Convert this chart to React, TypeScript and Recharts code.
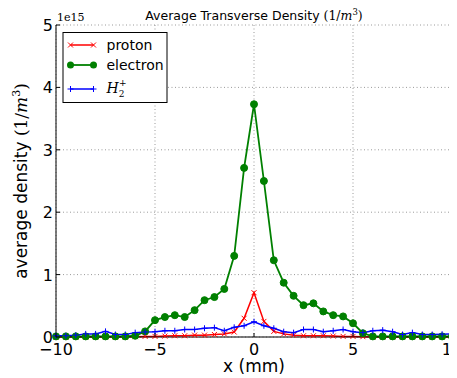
import React from 'react';
import { LineChart, Line, XAxis, YAxis, CartesianGrid } from 'recharts';

// x positions (mm)
const xMm = [-10, -9.5, -9, -8.5, -8, -7.5, -7, -6.5, -6, -5.5, -5, -4.5, -4, -3.5, -3, -2.5, -2, -1.5, -1, -0.5, 0, 0.5, 1, 1.5, 2, 2.5, 3, 3.5, 4, 4.5, 5, 5.5, 6, 6.5, 7, 7.5, 8, 8.5, 9, 9.5, 10];
// densities in units of 1e15 m^-3
const proton = [0, 0, 0, 0, 0, 0, 0, 0, 0.005, 0.01, 0.01, 0.015, 0.02, 0.02, 0.03, 0.03, 0.04, 0.05, 0.08, 0.3, 0.71, 0.25, 0.09, 0.05, 0.03, 0.02, 0.02, 0.02, 0.015, 0.01, 0.01, 0.005, 0, 0, 0, 0, 0, 0, 0, 0, 0];
const electron = [0.01, 0.01, 0.01, 0.01, 0.01, 0.01, 0.01, 0.01, 0.02, 0.09, 0.27, 0.32, 0.35, 0.32, 0.43, 0.59, 0.64, 0.77, 1.3, 2.71, 3.73, 2.5, 1.23, 0.87, 0.66, 0.51, 0.54, 0.41, 0.35, 0.33, 0.22, 0.06, 0.01, 0.01, 0.01, 0.01, 0.01, 0.01, 0.01, 0.01, 0.01];
const h2plus = [0.02, 0.02, 0.03, 0.05, 0.05, 0.09, 0.04, 0.04, 0.07, 0.08, 0.085, 0.1, 0.1, 0.12, 0.12, 0.14, 0.15, 0.1, 0.155, 0.18, 0.245, 0.18, 0.14, 0.085, 0.07, 0.12, 0.12, 0.085, 0.1, 0.12, 0.085, 0.07, 0.1, 0.11, 0.085, 0.04, 0.07, 0.04, 0.04, 0.045, 0.05];

const xTicks = [-10, -5, 0, 5, 10];
const yTicks = [0, 1, 2, 3, 4, 5];
const yOffsetText = '1e15';
const seriesNames = ['proton', 'electron'];

const data = xMm.map((x, i) => ({ x, proton: proton[i], electron: electron[i], h2: h2plus[i] }));

const CHART_W = 449;
const CHART_H = 370;
const MARGIN = { top: 17, right: 5, bottom: 0, left: 0 };
const Y_AXIS_W = 48;
const PLOT_CX = Y_AXIS_W + (CHART_W - Y_AXIS_W - MARGIN.right) / 2;

const FONT = '"DejaVu Sans", sans-serif';
const MATH = '"DejaVu Serif", serif';
const RED = '#ff0000';
const GREEN = '#008000';
const BLUE = '#0000ff';

const fmt = (v: number) => (v < 0 ? '\u2212' + Math.abs(v) : String(v));

const BottomTick = (p: any) => (
  <g>
    <line x1={p.x} x2={p.x} y1={p.y} y2={p.y - 4} stroke="#000" strokeWidth={1} />
    <text x={p.x} y={p.y + 18} textAnchor="middle" fontSize={16} fontFamily={FONT} fill="#000">{fmt(p.payload.value)}</text>
  </g>
);
const TopTick = (p: any) => (
  <line x1={p.x} x2={p.x} y1={p.y} y2={p.y + 4} stroke="#000" strokeWidth={1} />
);
const LeftTick = (p: any) => (
  <g>
    <line x1={p.x} x2={p.x + 4} y1={p.y} y2={p.y} stroke="#000" strokeWidth={1} />
    <text x={p.x - 3} y={p.y + 6} textAnchor="end" fontSize={16} fontFamily={FONT} fill="#000">{fmt(p.payload.value)}</text>
  </g>
);
const RightTick = (p: any) => (
  <line x1={p.x} x2={p.x - 4} y1={p.y} y2={p.y} stroke="#000" strokeWidth={1} />
);

const XLabel = (p: any) => {
  const vb = p.viewBox;
  return (
    <text x={vb.x + vb.width / 2} y={vb.y + 35} textAnchor="middle" fontSize={17} fontFamily={FONT} fill="#000">x (mm)</text>
  );
};

const crossPath = (cx: number, cy: number, s: number) =>
  `M${cx - s},${cy - s}L${cx + s},${cy + s}M${cx - s},${cy + s}L${cx + s},${cy - s}`;
const plusPath = (cx: number, cy: number, s: number) =>
  `M${cx - s},${cy}L${cx + s},${cy}M${cx},${cy - s}L${cx},${cy + s}`;

const L1 = 8;
const L2 = 31;
const TX = 44;

const LegendBox = ({ x, y }: { x: number; y: number }) => (
  <g transform={`translate(${x} ${y})`}>
    <rect x={0.5} y={0.5} width={104} height={70} fill="#fff" stroke="#000" strokeWidth={1} />
    <line x1={L1} x2={L2} y1={13} y2={13} stroke={RED} strokeWidth={1.5} />
    <path d={crossPath(L1, 13, 2.5) + crossPath(L2, 13, 2.5)} stroke={RED} strokeWidth={1} fill="none" />
    <text x={TX} y={18} fontSize={14} fontFamily={FONT} fill="#000">{seriesNames[0]}</text>
    <line x1={L1} x2={L2} y1={33} y2={33} stroke={GREEN} strokeWidth={1.8} />
    <circle cx={L1} cy={33} r={3.5} fill={GREEN} />
    <circle cx={L2} cy={33} r={3.5} fill={GREEN} />
    <text x={TX} y={38} fontSize={14} fontFamily={FONT} fill="#000">{seriesNames[1]}</text>
    <line x1={L1} x2={L2} y1={57} y2={57} stroke={BLUE} strokeWidth={1.5} />
    <path d={plusPath(L1, 57, 3) + plusPath(L2, 57, 3)} stroke={BLUE} strokeWidth={1} fill="none" />
    <text x={TX} y={61} fontSize={14} fontFamily={MATH} fontStyle="italic" fill="#000">
      H
      <tspan fontSize={9} fontStyle="normal" dy={4}>2</tspan>
      <tspan fontSize={9} fontStyle="normal" dx={-5.5} dy={-11}>+</tspan>
    </text>
  </g>
);

const YLabel = (p: any) => {
  const vb = p.viewBox;
  const cx = vb.x + 19;
  const cy = vb.y + vb.height / 2;
  const top = vb.y;
  return (
    <g>
      <text x={cx} y={cy} transform={`rotate(-90 ${cx} ${cy})`} textAnchor="middle" fontSize={17} fontFamily={FONT} fill="#000">
        average density{' '}
        <tspan fontFamily={MATH}>(1/</tspan>
        <tspan fontFamily={MATH} fontStyle="italic">m</tspan>
        <tspan fontFamily={MATH} fontSize={11} dy={-7}>3</tspan>
        <tspan fontFamily={MATH} dy={7}>)</tspan>
      </text>
      <text x={PLOT_CX} y={top - 5} textAnchor="middle" fontSize={12.5} fontFamily={FONT} fill="#000">
        Average Transverse Density{' '}
        <tspan fontFamily={MATH}>(1/</tspan>
        <tspan fontFamily={MATH} fontStyle="italic">m</tspan>
        <tspan fontFamily={MATH} fontSize={8.5} dy={-5}>3</tspan>
        <tspan fontFamily={MATH} dy={5}>)</tspan>
      </text>
      <text x={vb.x + vb.width + 1} y={top - 4} fontSize={11} fontFamily={MATH} fill="#000">{yOffsetText}</text>
      <LegendBox x={vb.x + vb.width + 6.5} y={top + 7} />
    </g>
  );
};

const CrossDot = (p: any) =>
  p.cx == null ? null : <path key={p.index} d={crossPath(p.cx, p.cy, 2.5)} stroke={RED} strokeWidth={1} fill="none" />;
const PlusDot = (p: any) =>
  p.cx == null ? null : <path key={p.index} d={plusPath(p.cx, p.cy, 3)} stroke={BLUE} strokeWidth={1} fill="none" />;
const CircleDot = (p: any) =>
  p.cx == null ? null : <circle key={p.index} cx={p.cx} cy={p.cy} r={3.5} fill={GREEN} stroke={GREEN} strokeWidth={1} />;

export default function App() {
  return (
    <div style={{ width: CHART_W, height: CHART_H }}>
      <LineChart width={CHART_W} height={CHART_H} data={data} margin={MARGIN}>
        <CartesianGrid stroke="#9a9a9a" strokeDasharray="1 2.5" strokeWidth={1} />
        <XAxis dataKey="x" type="number" domain={[-10, 10]} ticks={xTicks} interval={0} height={41}
          tickSize={0} tickMargin={0} tickLine={false} axisLine={{ stroke: '#000' }} tick={BottomTick} label={XLabel} />
        <XAxis xAxisId="top" orientation="top" dataKey="x" type="number" domain={[-10, 10]} ticks={xTicks} interval={0} height={0}
          tickSize={0} tickMargin={0} tickLine={false} axisLine={{ stroke: '#000' }} tick={TopTick} />
        <YAxis yAxisId="right" orientation="right" type="number" domain={[0, 5]} ticks={yTicks} interval={0} width={0}
          tickSize={0} tickMargin={0} tickLine={false} axisLine={{ stroke: '#000' }} tick={RightTick} />
        <Line dataKey="proton" stroke={RED} strokeWidth={1.5} dot={CrossDot} isAnimationActive={false} />
        <Line dataKey="electron" stroke={GREEN} strokeWidth={1.8} dot={CircleDot} isAnimationActive={false} />
        <Line dataKey="h2" stroke={BLUE} strokeWidth={1.5} dot={PlusDot} isAnimationActive={false} />
        <YAxis type="number" domain={[0, 5]} ticks={yTicks} interval={0} width={Y_AXIS_W}
          tickSize={0} tickMargin={0} tickLine={false} axisLine={{ stroke: '#000' }} tick={LeftTick} label={YLabel} />
      </LineChart>
    </div>
  );
}
